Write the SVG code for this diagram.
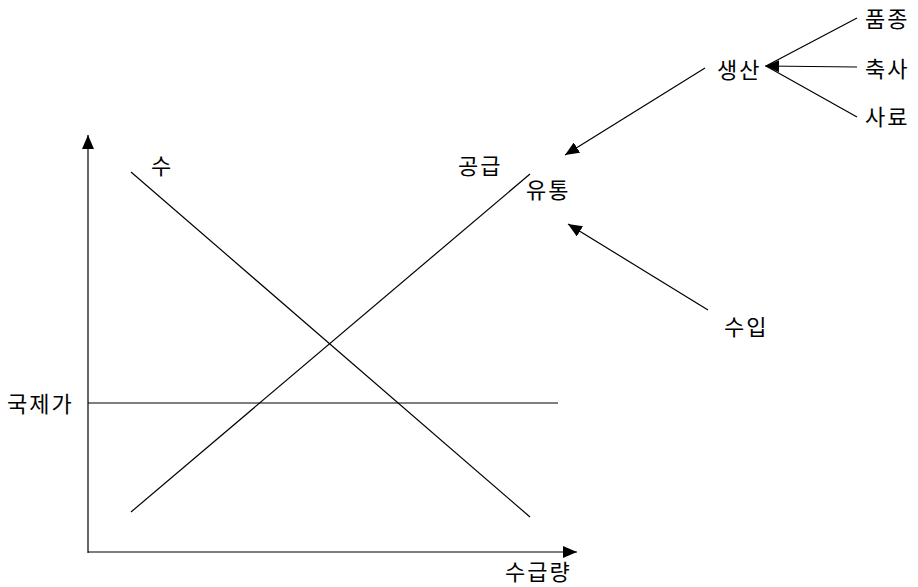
<svg xmlns="http://www.w3.org/2000/svg" width="918" height="587" viewBox="0 0 918 587">
<style>
line{stroke:#000;stroke-width:1.2;fill:none}
text{font-family:"Noto Sans CJK KR","Noto Sans",sans-serif;font-size:22px;letter-spacing:2px;fill:#000}
</style>
<defs>
<marker id="ah" viewBox="0 0 14 12" refX="14" refY="6" markerWidth="14" markerHeight="12" markerUnits="userSpaceOnUse" orient="auto">
<path d="M0,0 L14,6 L0,12 z" fill="#000"/>
</marker>
</defs>
<rect width="918" height="587" fill="#fff"/>
<g id="connectors">
<line x1="88" y1="553" x2="88" y2="135" marker-end="url(#ah)"/>
<line x1="88" y1="552" x2="577" y2="552" marker-end="url(#ah)"/>
<line x1="88" y1="403" x2="558" y2="403"/>
<line x1="131" y1="172" x2="530" y2="517"/>
<line x1="131" y1="512" x2="530" y2="174"/>
<line x1="705" y1="68" x2="565" y2="155" marker-end="url(#ah)"/>
<line x1="708" y1="310" x2="568" y2="224" marker-end="url(#ah)"/>
<line x1="857" y1="18" x2="766" y2="66"/>
<line x1="857" y1="67" x2="765" y2="66" marker-end="url(#ah)"/>
<line x1="857" y1="117" x2="766" y2="66"/>
</g>
<g id="labels">
<text id="n-su" x="151" y="174">수</text>
<text id="n-supply" x="458" y="174">공급</text>
<text id="n-dist" x="526" y="198">유통</text>
<text id="n-intl" x="7" y="412">국제가</text>
<text id="n-qty" x="505" y="580">수급량</text>
<text id="n-prod" x="717" y="78">생산</text>
<text id="n-import" x="724" y="335">수입</text>
<text id="n-breed" x="865" y="27">품종</text>
<text id="n-barn" x="865" y="77">축사</text>
<text id="n-feed" x="865" y="125">사료</text>
</g>
</svg>
